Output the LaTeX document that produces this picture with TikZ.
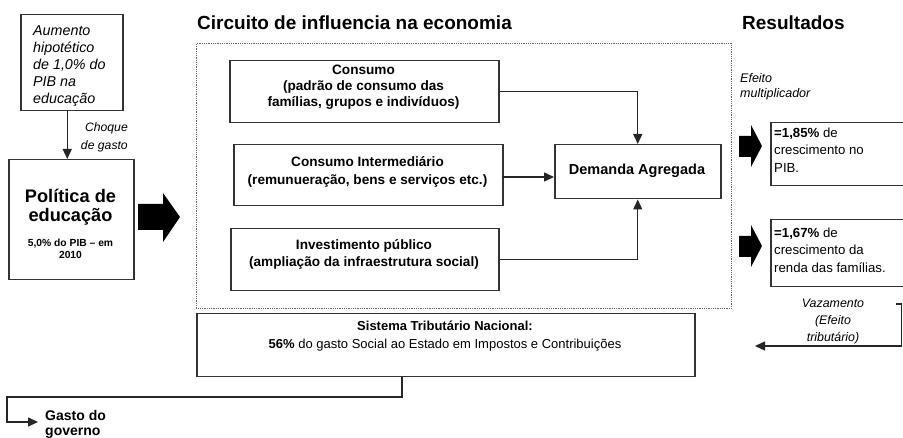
\documentclass[tikz,border=0pt]{standalone}
\usepackage{fontspec}
\setmainfont{Liberation Sans}
\usetikzlibrary{arrows.meta}
\tikzset{
  box/.style={draw=black!80, line width=1.5pt, inner sep=0pt, anchor=north west},
  dotbox/.style={draw=black!60, line width=0.9pt, dash pattern=on 0.9pt off 0.9pt, inner sep=0pt, anchor=north west},
  arr/.style={draw=black!85, line width=1.4pt, -{Triangle[length=10pt,width=9pt]}},
  txt/.style={inner sep=0pt, align=center},
  blk/.style={fill=black},
  bfont/.style={font=\fontsize{13.6}{17}\selectfont\bfseries},
  rfont/.style={font=\fontsize{13.2}{17.5}\selectfont},
}
\begin{document}
\begin{tikzpicture}[x=1pt,y=-1pt]
\useasboundingbox (0,0) rectangle (903,438);
\clip (0,0) rectangle (903,438);

% titles
\node[txt, anchor=west, font=\fontsize{19}{22}\selectfont\bfseries] (t1) at (197,23) {Circuito de influencia na economia};
\node[txt, anchor=west, font=\fontsize{19}{22}\selectfont\bfseries] (t2) at (742,23) {Resultados};

% left column
\node[box, minimum width=102pt, minimum height=96pt] (a) at (20,14) {};
\node[txt, align=left, anchor=west, font=\fontsize{14.3}{17}\selectfont\itshape] (at) at (33,66) {Aumento\\hipotético\\de 1,0\% do\\PIB na\\educação};
\node[box, minimum width=125pt, minimum height=120pt] (p) at (8,159) {};
\node[txt, font=\fontsize{18.2}{19.5}\selectfont\bfseries] (pt) at (70.5,207) {Política de\\educação};
\node[txt, font=\fontsize{10.3}{12.5}\selectfont\bfseries] (pt2) at (70.5,249) {5,0\% do PIB -- em\\2010};
\draw[arr] ([xshift=-4.5pt]a.south) -- ([xshift=-4pt]p.north);
\node[txt, align=right, anchor=east, font=\fontsize{12.2}{18}\selectfont\itshape] (ch) at (128,137) {Choque\\de gasto};

% big block arrow
\fill[blk] (138,204) -- (163,204) -- (163,193) -- (180,217) -- (163,242) -- (163,230) -- (138,230) -- cycle;

% circuit
\node[dotbox, minimum width=535pt, minimum height=265pt] (circ) at (196,43) {};
\node[box, minimum width=269pt, minimum height=62pt] (c) at (229,60) {};
\node[txt, font=\fontsize{13.6}{16}\selectfont\bfseries] (ct) at (363.5,87) {Consumo\\(padrão de consumo das\\famílias, grupos e indivíduos)};
\node[box, minimum width=269pt, minimum height=61pt] (ci) at (233,144) {};
\node[txt, font=\fontsize{13.6}{18}\selectfont\bfseries] (cit) at (367.5,172) {Consumo Intermediário\\(remunueração, bens e serviços etc.)};
\node[box, minimum width=268pt, minimum height=62pt] (inv) at (230,228) {};
\node[txt, bfont] (invt) at (364,254) {Investimento público\\(ampliação da infraestrutura social)};
\node[box, minimum width=166pt, minimum height=54pt] (d) at (554,144) {};
\node[txt, font=\fontsize{14.5}{17}\selectfont\bfseries] (dt) at (637,171) {Demanda Agregada};

\draw[arr] (c.east) -| (d.north);
\coordinate (cia) at (502,177);
\draw[arr] (cia) -- (cia -| d.west);
\draw[arr] (inv.east) -| (d.south);

% results
\node[txt, align=left, anchor=west, font=\fontsize{12.5}{15}\selectfont\itshape] (ef) at (740,87) {Efeito\\multiplicador};
\fill[blk] (739,136) -- (751,136) -- (751,125) -- (762,146) -- (751,167) -- (751,157) -- (739,157) -- cycle;
\fill[blk] (739,236) -- (751,236) -- (751,225) -- (762,246) -- (751,267) -- (751,257) -- (739,257) -- cycle;
\node[box, minimum width=145pt, minimum height=63pt] (r1) at (770,122) {};
\node[txt, align=left, anchor=west, rfont] (r1t) at (774,150) {\textbf{=1,85\%} de\\crescimento no\\PIB.};
\node[box, minimum width=145pt, minimum height=67pt] (r2) at (770,219) {};
\node[txt, align=left, anchor=west, rfont] (r2t) at (774,250) {\textbf{=1,67\%} de\\crescimento da\\renda das famílias.};

% vazamento
\node[txt, font=\fontsize{12.4}{17}\selectfont\itshape] (vz) at (833,322) {Vazamento\\(Efeito\\tributário)};
\coordinate (vz1) at (896,304);
\coordinate (vz2) at (755,346);
\draw[arr] (vz1) -- (901.5,304) -- (901.5,346) -- (vz2);

% sistema tributario
\node[box, minimum width=498pt, minimum height=63pt] (s) at (196,313) {};
\node[txt, font=\fontsize{13}{18}\selectfont] (st) at (445,336) {\textbf{Sistema Tributário Nacional:}\\\textbf{56\%} do gasto Social ao Estado em Impostos e Contribuições};

% gasto do governo
\node[txt, align=left, anchor=west, font=\fontsize{14}{15}\selectfont\bfseries] (g) at (45,424) {Gasto do\\governo};
\coordinate (ge) at (38,422);
\draw[arr] (s.south -| 402,0) -- (402,397) -- (7,397) -- (7,422) -- (ge);
\end{tikzpicture}
\end{document}
